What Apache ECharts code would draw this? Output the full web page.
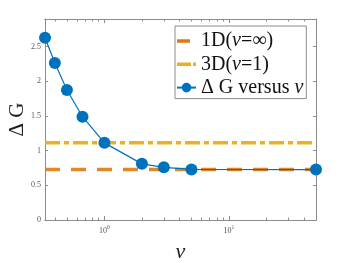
<!DOCTYPE html>
<html>
<head>
<meta charset="utf-8">
<script src="https://cdn.jsdelivr.net/npm/echarts@6/dist/echarts.min.js"></script>
<style>html,body{margin:0;padding:0;background:#fff}#c{width:350px;height:263px}</style>
</head>
<body>
<div id="c"></div>
<script>
var nuValues = [1/3, 0.4, 0.5, 2/3, 1, 2, 3, 5, 50];
var deltaG = [2.63, 2.265, 1.875, 1.49, 1.113, 0.81, 0.76, 0.73, 0.727];
var level1D = 0.727;
var level3D = 1.113;
var xRange = [1/3, 50];
var yRange = [0, 2.9];
var xMajorTicks = [1, 10];
var xMinorTicks = [0.4, 0.5, 0.6, 0.7, 0.8, 0.9, 2, 3, 4, 5, 6, 7, 8, 9, 20, 30, 40];
var yTicks = [0, 0.5, 1, 1.5, 2, 2.5];
var seriesNames = ['1D(ν=∞)', '3D(ν=1)', 'Δ G versus ν'];

var serif = 'Liberation Serif';
var axisCol = '#8c8c8c';
var labCol = '#555';

function xAxisDef(pos, ticks, len, showLabel) {
  return {
    type: 'log', logBase: 10, min: xRange[0], max: xRange[1], position: pos,
    axisLine: {show: true, lineStyle: {color: axisCol, width: 1}},
    axisTick: {show: true, inside: true, length: len, customValues: ticks, lineStyle: {color: axisCol}},
    axisLabel: showLabel ? {
      show: true, customValues: xMajorTicks, margin: 5,
      formatter: function (v) { return '{b|10}{s|' + Math.round(Math.log10(v)) + '}'; },
      rich: {
        b: {fontFamily: serif, fontSize: 8, color: labCol},
        s: {fontFamily: serif, fontSize: 5.5, color: labCol, padding: [0, 0, 5, 0]}
      }
    } : {show: false},
    splitLine: {show: false}, minorTick: {show: false},
    name: showLabel ? 'ν' : '', nameLocation: 'middle', nameGap: 21,
    nameTextStyle: {fontFamily: serif, fontStyle: 'italic', fontSize: 22, color: '#222'}
  };
}
function yAxisDef(pos, showLabel) {
  return {
    type: 'value', min: yRange[0], max: yRange[1], position: pos,
    axisLine: {show: true, lineStyle: {color: axisCol, width: 1}},
    axisTick: {show: true, inside: true, length: 3, customValues: yTicks, lineStyle: {color: axisCol}},
    axisLabel: showLabel ? {show: true, customValues: yTicks, margin: 4,
      fontFamily: serif, fontSize: 8, color: labCol} : {show: false},
    splitLine: {show: false},
    name: showLabel ? 'Δ G' : '', nameLocation: 'middle', nameGap: 17, nameRotate: 90,
    nameMoveOverlap: false,
    nameTextStyle: {fontFamily: serif, fontSize: 21, color: '#222'}
  };
}

var chart = echarts.init(document.getElementById('c'), null, {renderer: 'canvas'});
chart.setOption({
  animation: false,
  backgroundColor: '#fff',
  grid: {left: 45, top: 19, right: 34, bottom: 43, containLabel: false, outerBoundsMode: 'none'},
  xAxis: [
    xAxisDef('bottom', xMajorTicks, 4, true),
    xAxisDef('bottom', xMinorTicks, 2.5, false),
    xAxisDef('top', xMajorTicks, 4, false),
    xAxisDef('top', xMinorTicks, 2.5, false)
  ],
  yAxis: [yAxisDef('left', true), yAxisDef('right', false)],
  legend: {
    orient: 'vertical', left: 175, top: 26,
    padding: [4, 3, 0, 1], itemGap: 1.3,
    itemWidth: 19, itemHeight: 12,
    backgroundColor: '#fff', borderColor: '#8c8c8c', borderWidth: 1,
    data: [
      {name: seriesNames[0], icon: 'path://M0,0h13v3.5h-13z M18.95,0h0.05v3.5h-0.05z', itemStyle: {color: '#DF7A0E'}},
      {name: seriesNames[1], icon: 'path://M0,0h14v3.5h-14z M16,0h3v3.5h-3z', itemStyle: {color: '#EDB120'}},
      {name: seriesNames[2]}
    ],
    formatter: function (n) { return n.replace(/ν/g, '{i|ν}'); },
    textStyle: {fontFamily: serif, fontSize: 20, color: '#111', lineHeight: 22,
      rich: {i: {fontFamily: serif, fontStyle: 'italic', fontSize: 20, color: '#111', lineHeight: 22}}}
  },
  series: [
    {
      name: seriesNames[0], type: 'line', xAxisIndex: 0, yAxisIndex: 0,
      data: [[xRange[0], level1D], [xRange[1], level1D]],
      symbol: 'none', silent: true,
      lineStyle: {color: '#DF7A0E', width: 3.5, type: [15, 11], opacity: 0.9},
      itemStyle: {color: '#DF7A0E'}
    },
    {
      name: seriesNames[1], type: 'line', xAxisIndex: 0, yAxisIndex: 0,
      data: [[xRange[0], level3D], [xRange[1], level3D]],
      symbol: 'none', silent: true,
      lineStyle: {color: '#EDB120', width: 3.5, type: [15, 4, 5, 4]},
      itemStyle: {color: '#EDB120'}
    },
    {
      name: seriesNames[2], type: 'line', xAxisIndex: 0, yAxisIndex: 0,
      data: nuValues.map(function (x, i) { return [x, deltaG[i]]; }),
      symbol: 'circle', symbolSize: 12, showSymbol: true,
      lineStyle: {color: '#0072BD', width: 1.2},
      itemStyle: {color: '#0072BD'}
    }
  ]
});
</script>
</body>
</html>
